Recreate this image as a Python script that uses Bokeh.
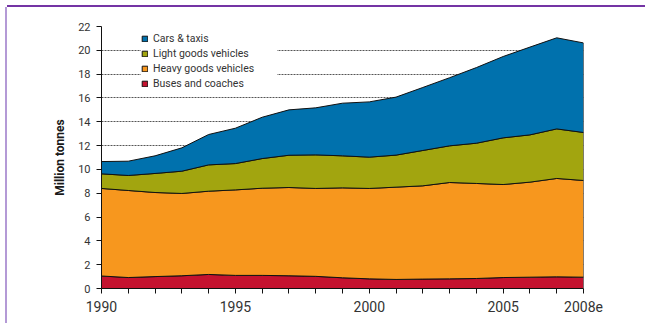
import numpy as np
from bokeh.plotting import figure
from bokeh.models import Range1d, FixedTicker, Legend, LegendItem
from bokeh.embed import file_html
from bokeh.resources import INLINE

# ---- data ----
years = list(range(1990, 2009))
x_tick_labels = {1990: "1990", 1995: "1995", 2000: "2000", 2005: "2005", 2008: "2008e"}
y_ticks = list(range(0, 23, 2))

buses = [1.05, 0.92, 1.00, 1.07, 1.18, 1.10, 1.10, 1.07, 1.02, 0.90,
         0.81, 0.76, 0.79, 0.81, 0.84, 0.92, 0.95, 0.98, 0.95]
heavy = [7.35, 7.31, 7.06, 6.91, 6.99, 7.18, 7.32, 7.41, 7.38, 7.55,
         7.59, 7.75, 7.83, 8.09, 7.98, 7.81, 7.98, 8.26, 8.12]
light = [1.23, 1.26, 1.60, 1.87, 2.21, 2.21, 2.49, 2.71, 2.82, 2.69,
         2.63, 2.69, 2.97, 3.08, 3.38, 3.92, 3.97, 4.16, 4.03]
cars = [1.03, 1.20, 1.48, 1.96, 2.55, 2.97, 3.47, 3.81, 3.95, 4.42,
        4.64, 4.87, 5.29, 5.72, 6.35, 6.83, 7.37, 7.65, 7.52]

series_names = ["Buses and coaches", "Heavy goods vehicles", "Light goods vehicles", "Cars & taxis"]
series_values = [buses, heavy, light, cars]
colors = ["#c4122f", "#f7971e", "#a2a50f", "#0071ad"]

FONT = "Roboto"

p = figure(width=638, height=316, output_backend="svg", toolbar_location=None,
           x_range=Range1d(1990, 2008), y_range=Range1d(0, 22),
           min_border_left=94, min_border_right=62, min_border_top=19, min_border_bottom=35)
p.styles = {"margin-left": "7px", "margin-top": "7px",
            "box-shadow": "0 -2px 0 0 #7434a4, -2px 0 0 0 #b49ad6"}
p.outline_line_color = None
p.background_fill_color = "white"
p.border_fill_color = "white"

# grid
p.xgrid.grid_line_color = None
p.ygrid.ticker = FixedTicker(ticks=y_ticks)
p.ygrid.grid_line_color = "#555555"
p.ygrid.grid_line_dash = "2 1"
p.ygrid.grid_line_width = 1

# stacked bands as outlined patches
renderers = {}
bottom = np.zeros(len(years))
for name, vals, c in zip(series_names, series_values, colors):
    top = bottom + np.array(vals)
    xs = years + years[::-1]
    ys = list(top) + list(bottom[::-1])
    renderers[name] = p.patch(xs, ys, fill_color=c, line_color="#111111", line_width=1)
    bottom = top

# axes
p.yaxis.ticker = FixedTicker(ticks=y_ticks)
p.yaxis.axis_label = "Million tonnes"
p.yaxis.axis_label_text_font = FONT
p.yaxis.axis_label_text_font_style = "bold"
p.yaxis.axis_label_text_font_size = "12px"
p.yaxis.axis_label_text_color = "#1a1a1a"
p.yaxis.axis_label_standoff = 8
p.yaxis.major_label_text_font = FONT
p.yaxis.major_label_text_font_size = "11px"
p.yaxis.major_label_text_color = "#333333"
p.yaxis.major_label_standoff = 6

p.xaxis.ticker = FixedTicker(ticks=years)
p.xaxis.major_label_overrides = {y: x_tick_labels.get(y, "") for y in years}
p.xaxis.major_label_text_font = FONT
p.xaxis.major_label_text_font_size = "14px"
p.xaxis.major_label_text_color = "#333333"
p.xaxis.major_label_standoff = 7

for ax in (p.xaxis, p.yaxis):
    ax.axis_line_color = "#111111"
    ax.major_tick_line_color = "#111111"
    ax.major_tick_out = 5
    ax.major_tick_in = 0
    ax.minor_tick_line_color = None

# legend
items = [LegendItem(label=n, renderers=[renderers[n]]) for n in series_names[::-1]]
legend = Legend(items=items, location=(40, 198), orientation="vertical",
                glyph_width=7, glyph_height=7, label_height=12, spacing=2,
                padding=4, margin=0, label_standoff=5, label_width=124,
                label_text_font=FONT, label_text_font_size="10.5px", label_text_color="#333333",
                background_fill_color="white", background_fill_alpha=1.0,
                border_line_color=None)
p.add_layout(legend, "center")

open("out.html", "w").write(file_html(p, INLINE))
